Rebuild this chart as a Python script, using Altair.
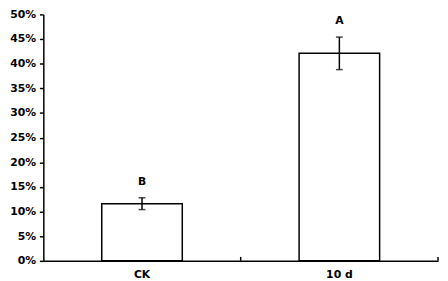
import altair as alt
import pandas as pd

categories = ["CK", "10 d"]
means = [0.116, 0.421]
errs = [0.012, 0.033]
letters = ["B", "A"]
y_ticks = [0, 0.05, 0.10, 0.15, 0.20, 0.25, 0.30, 0.35, 0.40, 0.45, 0.50]
x_boundaries = [1, 2]

df = pd.DataFrame({
    "cat": categories,
    "mean": means,
    "lo": [m - e for m, e in zip(means, errs)],
    "hi": [m + e for m, e in zip(means, errs)],
    "letter": letters,
})
bdf = pd.DataFrame({"b": x_boundaries, "z": [0] * len(x_boundaries)})

FONT = "DejaVu Sans"
H = 251

xsort = categories
xenc = alt.X("cat:N", sort=xsort, title=None,
             scale=alt.Scale(paddingInner=0.592, paddingOuter=0.296),
             axis=alt.Axis(labelAngle=0, ticks=False, labelPadding=8,
                           labelFont=FONT, labelFontSize=11, labelFontWeight="bold",
                           labelColor="black", domainColor="black", domainWidth=1.5))
yscale = alt.Scale(domain=[0, 0.5], nice=False, zero=True)
yaxis = alt.Axis(values=y_ticks, tickCount=20, format=".0%", grid=False, tickSize=4,
                 tickColor="black", tickWidth=1.5, labelPadding=4,
                 labelOverlap=False, labelFlush=False,
                 labelFont=FONT, labelFontSize=11, labelFontWeight="bold",
                 labelColor="black", domainColor="black", domainWidth=1.5)


def Y(field):
    return alt.Y(field, scale=yscale, title=None, axis=yaxis)


bars = alt.Chart(df).mark_bar(fill="white", stroke="black", strokeWidth=1.5).encode(
    x=xenc, y=Y("mean:Q"))
rules = alt.Chart(df).mark_rule(color="black", strokeWidth=1.5).encode(
    x=xenc, y=Y("lo:Q"), y2="hi:Q")
caps_hi = alt.Chart(df).mark_tick(color="black", size=7, thickness=1.5).encode(
    x=xenc, y=Y("hi:Q"))
caps_lo = alt.Chart(df).mark_tick(color="black", size=7, thickness=1.5).encode(
    x=xenc, y=Y("lo:Q"))
labels = alt.Chart(df).mark_text(font=FONT, fontSize=11, fontWeight="bold",
                                 color="black", dy=-16, baseline="middle").encode(
    x=xenc, y=Y("hi:Q"), text="letter:N")

main = alt.layer(bars, rules, caps_hi, caps_lo, labels)

ticks = alt.Chart(bdf).mark_rule(color="black", strokeWidth=1.5).encode(
    x=alt.X("b:Q", scale=alt.Scale(domain=[0, 2], nice=False), axis=None),
    y=Y("z:Q"),
    y2=alt.value(H - 4),
)

chart = alt.layer(main, ticks).resolve_scale(x="independent").properties(
    width=402, height=H,
    autosize=alt.AutoSizeParams(type="none"),
    padding={"left": 36, "top": 4, "right": 2, "bottom": 18},
).configure_view(stroke=None)

chart.save("out.html", embed_options={"renderer": "svg", "actions": False})
